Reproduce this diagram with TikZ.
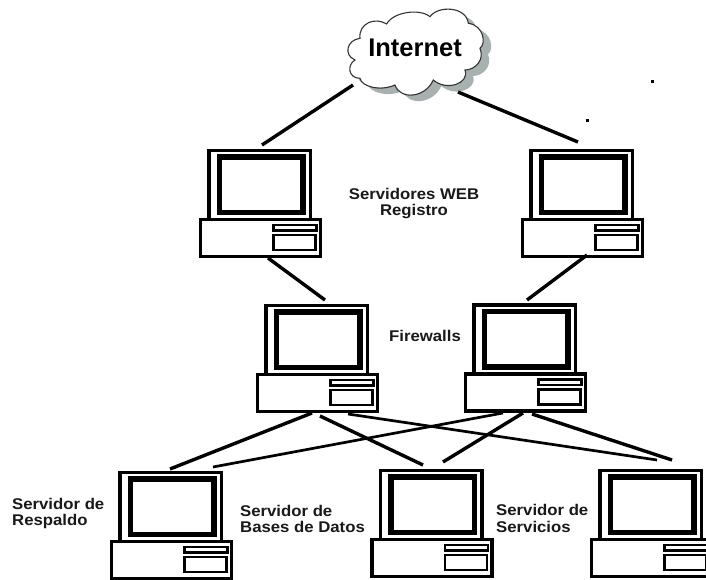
\documentclass[tikz,border=0pt]{standalone}
\usepackage{fontspec}
\setmainfont{Liberation Sans}
\newfontfamily\wideb[FakeStretch=1.08]{Liberation Sans Bold}
\definecolor{cloudshade}{RGB}{168,176,176}
\tikzset{
  px/.style={x=1pt,y=-1pt},
  link/.style={line width=3.4pt,black},
  thinlink/.style={line width=2.7pt,black},
  framebox/.style={draw=black,fill=white,rectangle,inner sep=0pt,outer sep=0pt,anchor=north west},
  lbl/.style={font=\fontsize{15.5}{16.8}\selectfont\wideb,text=black!90,align=left,inner sep=0pt},
  pics/computer/.style={code={
    \node[framebox,line width=3.3pt,minimum width=101.5pt,minimum height=69pt] (-mon) at (8.5,-69) {};
    \node[framebox,line width=5.4pt,minimum width=83.5pt,minimum height=55.5pt] (-scr) at (19,-62.5) {};
    \node[framebox,line width=3.3pt,minimum width=120pt,minimum height=37pt] (-base) at (0,0) {};
    \node[framebox,line width=2.6pt,minimum width=43pt,minimum height=5.5pt] (-d1) at (73,5.5) {};
    \node[framebox,line width=2.6pt,minimum width=42pt,minimum height=15pt] (-d2) at (73,15.5) {};
  }}
}
\newcommand{\cloudshape}{(510,115) .. controls (505,70) and (555,50) .. (590,72)
  .. controls (610,35) and (690,25) .. (720,50)
  .. controls (745,15) and (830,20) .. (835,70)
  .. controls (880,75) and (890,130) .. (870,145)
  .. controls (885,180) and (855,210) .. (825,210)
  .. controls (840,250) and (770,275) .. (730,240)
  .. controls (705,295) and (630,300) .. (615,255)
  .. controls (570,275) and (515,260) .. (510,235)
  .. controls (475,235) and (470,195) .. (495,180)
  .. controls (460,165) and (470,120) .. (510,115) -- cycle}
\begin{document}
\begin{tikzpicture}[px]
\useasboundingbox (0,0) rectangle (706,580);
\clip (0,0) rectangle (706,580);
\fill[white] (0,0) rectangle (706,580);
% cloud
\begin{scope}[shift={(198,6)},x=0.3333pt,y=-0.3333pt]
  \fill[cloudshade] \cloudshape;
\end{scope}
\begin{scope}[shift={(190,0)},x=0.3333pt,y=-0.3333pt]
  \draw[fill=white,line width=1.1pt,draw=black!80] \cloudshape;
\end{scope}
\node[font=\fontsize{25.5}{27}\selectfont\bfseries,inner sep=0pt] (cloud) at (415,48) {Internet};
% computers
\pic (a) at (200.5,219.5) {computer};
\pic (b) at (522.5,219.5) {computer};
\pic (c) at (257.5,374.5) {computer};
\pic (d) at (465.5,374) {computer};
\pic (e) at (111.5,541.5) {computer};
\pic (f) at (372,539.5) {computer};
\pic (g) at (591.5,539.5) {computer};
% connectors
\draw[link] ([shift={(-62,37)}]cloud.center) -- ([shift={(53,-5.5)}]a-mon.north west);
\draw[link] ([shift={(43,44)}]cloud.center) -- ([shift={(47,-8.5)}]b-mon.north west);
\draw[link] ([shift={(67.5,1.5)}]a-base.south west) -- ([shift={(59,-5.5)}]c-mon.north west);
\draw[link] ([shift={(64.5,-1.5)}]b-base.south west) -- ([shift={(53,-5)}]d-mon.north west);
\draw[link] ([shift={(54.5,1.5)}]c-base.south west) -- ([shift={(50,-3.5)}]e-mon.north west);
\draw[link] ([shift={(62.5,4.5)}]c-base.south west) -- ([shift={(42.5,-5.5)}]f-mon.north west);
\draw[thinlink] ([shift={(90.5,2.5)}]c-base.south west) -- ([shift={(57,-10.5)}]g-mon.north west);
\draw[thinlink] ([shift={(37.5,2)}]d-base.south west) -- ([shift={(93,-5.5)}]e-mon.north west);
\draw[link] ([shift={(57.5,2)}]d-base.south west) -- ([shift={(62.5,-8.5)}]f-mon.north west);
\draw[link] ([shift={(66.5,3)}]d-base.south west) -- ([shift={(72,-10.5)}]g-mon.north west);
% labels
\node[lbl,align=center] (web) at (414,203.5) {Servidores WEB\\Registro};
\node[lbl] (fw) at (425,336) {Firewalls};
\node[lbl,anchor=west] (resp) at (12,513.5) {Servidor de\\Respaldo};
\node[lbl,anchor=west] (bd) at (240,519) {Servidor de\\Bases de Datos};
\node[lbl,anchor=west] (serv) at (496,518.5) {Servidor de\\Servicios};
% specks
\fill[black] (650.5,80.5) rectangle (653.5,83.5);
\fill[black] (585.5,119.5) rectangle (588.5,122.5);
\end{tikzpicture}
\end{document}
